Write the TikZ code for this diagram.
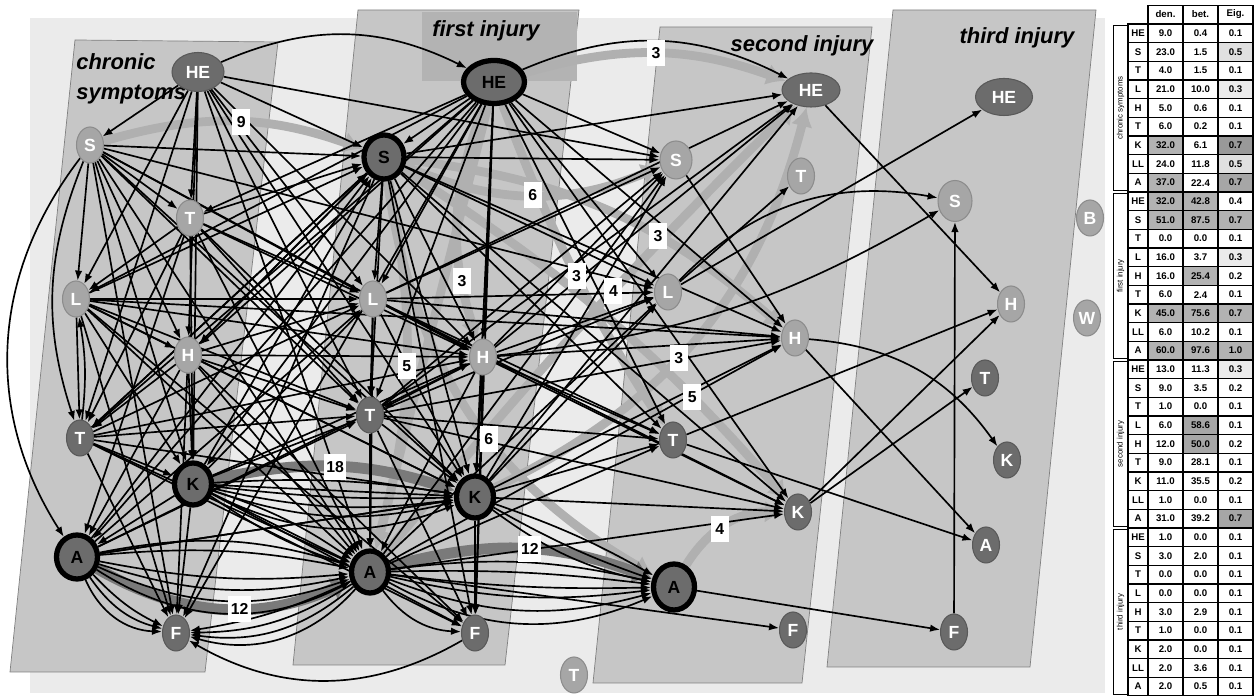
\documentclass[tikz,border=0pt]{standalone}
\usepackage{fontspec}
\setmainfont{Liberation Sans}
\usepackage{tikz}
\usetikzlibrary{arrows.meta, shapes.geometric}
\definecolor{frame}{HTML}{EBEBEB}
\definecolor{panel}{HTML}{C6C6C6}
\definecolor{panelTop}{HTML}{B3B3B3}
\definecolor{lnode}{HTML}{A6A6A6}
\definecolor{dnode}{HTML}{6C6C6C}
\definecolor{wlight}{HTML}{B0B0B0}
\definecolor{wdark}{HTML}{7A7A7A}
\pgfdeclarelayer{back}
\pgfdeclarelayer{wide}
\pgfdeclarelayer{thin}
\pgfsetlayers{back,wide,thin,main}

\begin{document}
\begin{tikzpicture}[
  nd/.style={ellipse, minimum width=0.54cm, minimum height=0.72cm, inner sep=0pt,
             text=white, font=\fontsize{10}{10}\selectfont\bfseries},
  lt/.style={nd, fill=lnode, draw=black!45, line width=0.6pt},
  dk/.style={nd, fill=dnode, draw=black!65, line width=0.6pt},
  hub/.style={nd, fill=dnode, draw=black, line width=3pt, text=black,
              minimum width=0.74cm, minimum height=0.84cm},
  hel/.style={minimum width=1.04cm, minimum height=0.78cm},
  ttl/.style={font=\fontsize{12.5}{17}\selectfont\bfseries\itshape, inner sep=0pt},
  ed/.style={-{Latex[length=2mm, width=1.5mm]}, line width=0.95pt, black},
  wl/.style={-{Latex[length=3.8mm, width=4.4mm]}, line width=5pt, wlight},
  wd/.style={-{Latex[length=3.8mm, width=4.8mm]}, line width=6.2pt, wdark},
  wlab/.style={fill=white, inner sep=1.5pt, minimum width=0.36cm, minimum height=0.52cm,
               font=\fontsize{9}{9}\selectfont\bfseries},
  cell/.style={draw=black, line width=0.7pt, minimum width=0.70cm, minimum height=0.3733cm,
               inner sep=0pt, font=\fontsize{5.5}{5.5}\selectfont\bfseries}
]
\useasboundingbox (0,0) rectangle (25.14,13.92);

% ================= titles =================
\node[ttl, align=left, anchor=north west] (tchr) at (1.52,12.86) {chronic\\symptoms};
\node[ttl] (tfir) at (9.72,13.30) {first injury};
\node[ttl] (tsec) at (16.04,13.00) {second injury};
\node[ttl] (tthi) at (20.34,13.16) {third injury};

% ================= chronic symptoms =================
\node[dk, hel] (he1) at (3.96,12.48) {HE};
\node[lt] (s1)  at (1.80,11.02) {S};
\node[lt] (t1)  at (3.80,9.56) {T};
\node[lt] (l1)  at (1.52,7.94) {L};
\node[lt] (h1)  at (3.76,6.82) {H};
\node[dk] (tt1) at (1.60,5.16) {T};
\node[hub] (k1) at (3.86,4.24) {K};
\node[hub, minimum width=0.82cm, minimum height=0.88cm] (a1) at (1.54,2.78) {A};
\node[dk] (f1)  at (3.52,1.26) {F};

% ================= first injury =================
\node[hub, hel, minimum width=1.22cm, minimum height=0.86cm] (he2) at (9.88,12.28) {HE};
\node[hub, minimum width=0.80cm, minimum height=0.88cm] (s2) at (7.68,10.78) {S};
\node[lt] (l2)  at (7.46,7.94) {L};
\node[lt] (h2)  at (9.66,6.78) {H};
\node[dk] (tt2) at (7.40,5.62) {T};
\node[hub] (k2) at (9.50,3.98) {K};
\node[hub] (a2) at (7.40,2.48) {A};
\node[dk] (f2)  at (9.50,1.26) {F};
\node[lt] (tx)  at (11.48,0.42) {T};

% ================= second injury =================
\node[dk, hel, minimum width=1.16cm, minimum height=0.68cm] (he3) at (16.22,12.12) {HE};
\node[lt, minimum width=0.64cm, minimum height=0.76cm] (s3) at (13.52,10.72) {S};
\node[lt] (t3)  at (16.02,10.40) {T};
\node[lt] (l3)  at (13.36,8.08) {L};
\node[lt] (h3)  at (15.90,7.16) {H};
\node[dk] (tt3) at (13.46,5.12) {T};
\node[dk] (k3)  at (15.96,3.68) {K};
\node[hub, minimum width=0.82cm, minimum height=0.92cm] (a3) at (13.48,2.18) {A};
\node[dk] (f3)  at (15.86,1.32) {F};

% ================= third injury =================
\node[dk, hel, minimum width=1.14cm, minimum height=0.74cm] (he4) at (20.08,11.98) {HE};
\node[lt, minimum width=0.68cm, minimum height=0.82cm] (s4) at (19.10,9.90) {S};
\node[lt] (h4) at (20.22,7.84) {H};
\node[dk] (t4) at (19.70,6.36) {T};
\node[dk] (k4) at (20.14,4.72) {K};
\node[dk] (a4) at (19.72,3.02) {A};
\node[dk] (f4) at (19.08,1.28) {F};

\node[lt] (b5) at (21.80,9.56) {B};
\node[lt] (w5) at (21.74,7.56) {W};

% ================= panels =================
\begin{pgfonlayer}{back}
  \fill[frame] (0.60,13.56) rectangle (22.10,0.06);
  \filldraw[fill=panel, draw=black!50] (1.50,13.12) -- (5.56,13.08) -- (4.10,0.48) -- (0.20,0.48) -- cycle;
  \filldraw[fill=panel, draw=black!50] (7.16,13.72) -- (11.58,13.72) -- (10.10,0.62) -- (5.86,0.62) -- cycle;
  \fill[panelTop] (8.44,13.68) rectangle (11.54,12.30);
  \filldraw[fill=panel, draw=black!50] (13.20,13.38) -- (17.44,13.38) -- (16.04,0.26) -- (11.86,0.26) -- cycle;
  \filldraw[fill=panel, draw=black!50] (17.86,13.72) -- (21.92,13.72) -- (20.60,0.58) -- (16.54,0.58) -- cycle;
\end{pgfonlayer}

% ================= weighted edges =================
\begin{pgfonlayer}{wide}
  \draw[wl] (s1) to[bend left=18] coordinate[pos=0.53] (w9) (s2);
  \draw[wl] (he2) to[bend left=18] coordinate[pos=0.5] (w3a) (he3);
  \draw[wl] (s2) to[bend right=23] coordinate[pos=0.5] (w6a) (s3);
  \draw[wl] (s2) to[bend left=13] coordinate[pos=0.5] (w5a) (a2);
  \draw[wl] (he2) to[bend right=20] coordinate[pos=0.76] (w3b) (h2);
  \draw[wl] (s2) to[bend left=17] coordinate[pos=0.64] (w3c) (h3);
  \draw[wl] (he2) to[bend right=6] coordinate[pos=0.52] (w3d) (tt3);
  \draw[wl] (a2) to[bend left=3] coordinate[pos=0.58] (w4a) (he3);
  \draw[wl] (k2) to[bend right=25] coordinate[pos=0.44] (w3e) (he3);
  \draw[wl] (s2) to[bend left=8] coordinate[pos=0.74] (w5b) (k3);
  \draw[wl] (s2) to[bend right=26] coordinate[pos=0.57] (w6b) (a3);
  \draw[wl] (a3) to[bend left=30] coordinate[pos=0.42] (w4b) (k3);
  \draw[wl] (he2) -- (a2);
  \draw[wd] (k1) to[bend left=15] coordinate[pos=0.5] (w18) (k2);
  \draw[wd] (a1) to[bend right=27] coordinate[pos=0.57] (w12a) (a2);
  \draw[wd] (a2) to[bend left=18] coordinate[pos=0.53] (w12b) (a3);
\end{pgfonlayer}

% ================= single edges =================
\begin{pgfonlayer}{thin}
  % chronic -> first injury
  \foreach \u in {he1,s1,t1,l1,h1,tt1,k1,a1}
    \foreach \v in {s2,l2,h2,tt2,k2}
      \draw[ed] (\u) -- (\v);
  \foreach \u in {he1,s1,t1,l1,h1,tt1}
    \draw[ed] (\u) -- (a2);
  \foreach \u in {l1,h1,k1,tt1}
    \draw[ed] (\u) -- (f2);
  \foreach \v in {t1,l1,h1,tt1,k1,a1,f1}
    \draw[ed] (he2) -- (\v);
  \foreach \v in {h1,tt1,f1}
    \draw[ed] (s2) -- (\v);

  % inside chronic symptoms
  \foreach \u/\v in {he1/s1, he1/t1, he1/l1, he1/h1, he1/tt1, he1/k1, s1/l1, s1/t1,
                     s1/h1, s1/k1, s1/f1, t1/l1, t1/a1, t1/tt1, t1/k1, l1/tt1, l1/h1,
                     l1/k1, l1/f1, h1/tt1, h1/a1, h1/f1, h1/k1, tt1/k1, tt1/f1,
                     k1/a1, k1/f1}
    \draw[ed] (\u) -- (\v);
  \draw[ed] (tt1) to[bend right=8] (l1);
  \draw[ed] (s1) to[bend right=35] (a1);
  \draw[ed] (s1) to[bend right=20] (tt1);
  \foreach \b in {10,20,32}
    \draw[ed] (a1) to[bend right=\b] (f1);

  % inside first injury
  \foreach \u/\v in {he2/s2, he2/l2, he2/h2, he2/tt2, he2/k2, he2/f2, s2/l2, s2/h2,
                     s2/tt2, s2/k2, s2/f2, l2/h2, l2/tt2, l2/k2, l2/a2, h2/tt2,
                     h2/k2, h2/a2, h2/f2, tt2/k2, tt2/a2, tt2/f2, k2/f2}
    \draw[ed] (\u) -- (\v);

  % bundles of parallel arcs
  \foreach \b in {-30,-22,-15,-8,8,14}
    \draw[ed] (a1) to[bend left=\b] (a2);
  \foreach \b in {-24,-16,-10,-4,6}
    \draw[ed] (k1) to[bend left=\b] (k2);
  \foreach \b in {-26,-18,-10,-4,4,10}
    \draw[ed] (a2) to[bend left=\b] (a3);
  \foreach \b in {8,16,24,32}
    \draw[ed] (a2) to[bend left=\b] (f1);
  \foreach \b in {-12,-5,5}
    \draw[ed] (k2) to[bend left=\b] (a3);
  \foreach \b in {-8,0,8}
    \draw[ed] (k1) to[bend left=\b] (a2);
  \draw[ed] (a1) -- (k2);
  \draw[ed] (f2) to[bend left=30] (f1);
  \draw[ed] (a2) to[bend right=25] (f2);

  % first injury -> second injury
  \foreach \u in {he2,s2,l2,h2,tt2,k2,a2}
    \foreach \v in {s3,l3,h3,tt3,k3}
      \draw[ed] (\u) -- (\v);
  \foreach \u in {s2,l2,h2,k2,tt2}
    \draw[ed] (\u) -- (he3);
  \draw[ed] (he2) to[bend left=25] (he3);
  \draw[ed] (he1) to[bend left=25] (he2);
  \draw[ed] (he1) -- (s3);
  \draw[ed] (s1) -- (l3);
  \draw[ed] (l1) -- (h3);

  % second injury -> third injury
  \foreach \u/\v/\b in {l3/t3/0, s3/h3/0, he3/h4/0, l3/he4/0, l3/s4/28, h2/s4/-12,
                        h3/k4/25, h3/a4/0, k3/t4/0, k3/h4/0, tt3/h4/0, tt3/a4/0,
                        a3/f4/0, a2/f3/0, f4/s4/0}
    \draw[ed] (\u) to[bend left=\b] (\v);
\end{pgfonlayer}

% ================= weights =================
\node[wlab] (n9)   at (w9)   {9};
\node[wlab] (n3a)  at (w3a)  {3};
\node[wlab] (n6a)  at (w6a)  {6};
\node[wlab] (n5a)  at (w5a)  {5};
\node[wlab] (n3b)  at (w3b)  {3};
\node[wlab] (n3c)  at (w3c)  {3};
\node[wlab] (n3d)  at (w3d)  {3};
\node[wlab] (n4a)  at (w4a)  {4};
\node[wlab] (n3e)  at (w3e)  {3};
\node[wlab] (n5b)  at (w5b)  {5};
\node[wlab] (n6b)  at (w6b)  {6};
\node[wlab] (n4b)  at (w4b)  {4};
\node[wlab] (n18)  at (w18)  {18};
\node[wlab] (n12a) at (w12a) {12};
\node[wlab] (n12b) at (w12b) {12};

% ================= table =================
\foreach \hxx/\hname [count=\k] in {23.31/den., 24.01/bet., 24.71/Eig.}
  \node[cell] (hd\k) at (\hxx,13.63) {\hname};

\foreach \gn [count=\g from 0] in {chronic symptoms, first injury, second injury, third injury}
  \node[cell, rotate=90, minimum width=3.30cm, minimum height=0.28cm,
        font=\fontsize{4.5}{4.5}\selectfont] (grp\g) at (22.41,{13.44-(\g*9+4.5)*0.3733}) {\gn};

\foreach \lab/\cd/\cb/\cv/\sd/\sbt/\sv [count=\r] in {
    HE/9.0/0.4/0.1/0/0/0, S/23.0/1.5/0.5/0/0/12, T/4.0/1.5/0.1/0/0/0,
    L/21.0/10.0/0.3/0/0/8, H/5.0/0.6/0.1/0/0/0, T/6.0/0.2/0.1/0/0/0,
    K/32.0/6.1/0.7/30/0/40, LL/24.0/11.8/0.5/0/0/12, A/37.0/22.4/0.7/30/0/35,
    HE/32.0/42.8/0.4/30/30/0, S/51.0/87.5/0.7/30/30/30, T/0.0/0.0/0.1/0/0/0,
    L/16.0/3.7/0.3/0/0/8, H/16.0/25.4/0.2/0/30/0, T/6.0/2.4/0.1/0/0/0,
    K/45.0/75.6/0.7/30/30/30, LL/6.0/10.2/0.1/0/0/0, A/60.0/97.6/1.0/30/30/30,
    HE/13.0/11.3/0.3/0/0/8, S/9.0/3.5/0.2/0/0/0, T/1.0/0.0/0.1/0/0/0,
    L/6.0/58.6/0.1/0/35/0, H/12.0/50.0/0.2/0/35/0, T/9.0/28.1/0.1/0/0/0,
    K/11.0/35.5/0.2/0/0/0, LL/1.0/0.0/0.1/0/0/0, A/31.0/39.2/0.7/0/0/35,
    HE/1.0/0.0/0.1/0/0/0, S/3.0/2.0/0.1/0/0/0, T/0.0/0.0/0.1/0/0/0,
    L/0.0/0.0/0.1/0/0/0, H/3.0/2.9/0.1/0/0/0, T/1.0/0.0/0.1/0/0/0,
    K/2.0/0.0/0.1/0/0/0, LL/2.0/3.6/0.1/0/0/0, A/2.0/0.5/0.1/0/0/0}
{
  \pgfmathsetmacro{\yy}{13.44-(\r-0.5)*0.3733}
  \node[cell, minimum width=0.40cm] (rl\r) at (22.76,\yy) {\lab};
  \node[cell, fill=black!\sd] (rd\r) at (23.31,\yy) {\cd};
  \node[cell, fill=black!\sbt] (rb\r) at (24.01,\yy) {\cb};
  \node[cell, fill=black!\sv] (re\r) at (24.71,\yy) {\cv};
}

\end{tikzpicture}
\end{document}
